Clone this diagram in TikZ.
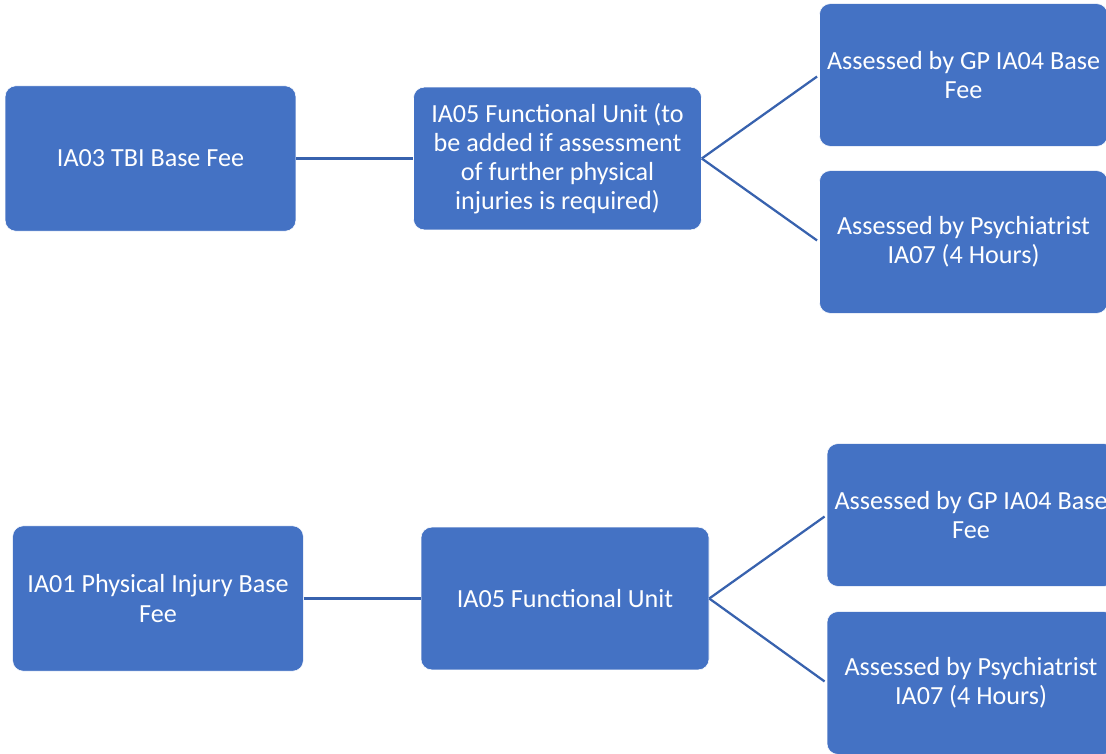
\documentclass[tikz,border=0pt]{standalone}
\usepackage{fontspec}
\setmainfont{Carlito}
\definecolor{boxblue}{HTML}{4472C4}
\definecolor{lineblue}{HTML}{3862AE}
\begin{document}
\begin{tikzpicture}[x=0.75pt,y=-0.75pt,
  fbox/.style={rectangle, rounded corners=8pt, fill=boxblue, draw=white, line width=0.4pt,
    text=white, align=center, inner sep=0pt,
    minimum width=216pt, minimum height=107pt,
    font=\fontsize{19.6}{21.9}\selectfont},
  conn/.style={draw=lineblue, line width=1.7pt}]
\useasboundingbox (0,0) rectangle (1106,753);
\clip (0,0) rectangle (1106,753);
% top group
\node[fbox, minimum width=218pt, minimum height=109pt] (tbi) at (150.5,158.5) {IA03 TBI Base Fee};
\node[fbox] (fu1) at (557.5,158.5) {IA05 Functional Unit (to\\be added if assessment\\of further physical\\injuries is required)};
\node[fbox] (gp1) at (963.5,75) {Assessed by GP IA04 Base\\Fee};
\node[fbox] (ps1) at (963.5,242) {Assessed by Psychiatrist\\IA07 (4 Hours)};
% bottom group
\node[fbox, minimum width=218pt, minimum height=109pt] (pib) at (158,598.5) {IA01 Physical Injury Base\\Fee};
\node[fbox] (fu2) at (565,598.5) {IA05 Functional Unit};
\node[fbox] (gp2) at (971,515) {Assessed by GP IA04 Base\\Fee};
\node[fbox] (ps2) at (971,683) {Assessed by Psychiatrist\\IA07 (4 Hours)};
% connectors
\draw[conn] (tbi.east) -- (fu1.west);
\draw[conn, shorten >=2pt] (fu1.east) -- (gp1.west);
\draw[conn, shorten >=2pt] (fu1.east) -- (ps1.west);
\draw[conn] (pib.east) -- (fu2.west);
\draw[conn, shorten >=2pt] (fu2.east) -- (gp2.west);
\draw[conn, shorten >=2pt] (fu2.east) -- (ps2.west);
\end{tikzpicture}
\end{document}
